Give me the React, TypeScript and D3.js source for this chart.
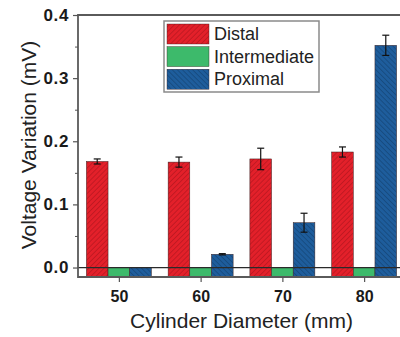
import { useEffect, useRef } from "react";
import * as d3 from "d3";

const categories = [50, 60, 70, 80];
const seriesNames = ["Distal", "Intermediate", "Proximal"];
const distal = [0.168, 0.167, 0.172, 0.183];
const distalErr = [0.004, 0.008, 0.017, 0.008];
const intermediate = [0, 0, 0, 0];
const intermediateErr = [0, 0, 0, 0];
const proximal = [0.0, 0.021, 0.071, 0.352];
const proximalErr = [0, 0.001, 0.015, 0.016];
const yMajorTicks = [0, 0.1, 0.2, 0.3, 0.4];
const yMinorTicks = [0.05, 0.15, 0.25, 0.35];

const W = 400;
const H = 337;

export default function App() {
  const svgRef = useRef<SVGSVGElement>(null);

  useEffect(() => {
    if (!svgRef.current) return;
    const svg = d3.select(svgRef.current);
    svg.selectAll("*").remove();

    const font = "'Liberation Sans', Arial, sans-serif";
    const left = 78, right = 405, top = 15, bottom = 277;

    const x = d3.scaleLinear().domain([45, 85]).range([left, right]);
    const y = d3.scaleLinear().domain([-0.015, 0.4]).range([bottom, top]);

    // hatch patterns
    const defs = svg.append("defs");
    const hatch = (id: string, bg: string, fg: string, angle: number) => {
      const p = defs.append("pattern")
        .attr("id", id)
        .attr("patternUnits", "userSpaceOnUse")
        .attr("width", 3.6)
        .attr("height", 3.6)
        .attr("patternTransform", `rotate(${angle})`);
      p.append("rect").attr("width", 3.6).attr("height", 3.6).attr("fill", bg);
      p.append("line")
        .attr("x1", 0).attr("y1", 0).attr("x2", 0).attr("y2", 3.6)
        .attr("stroke", fg).attr("stroke-width", 1.1);
    };
    hatch("hRed", "#e3202a", "#a8141c", 45);
    hatch("hBlue", "#1e5d9c", "#123f6c", -45);

    const fills = ["url(#hRed)", "#3dba6b", "url(#hBlue)"];
    const values = [distal, intermediate, proximal];
    const errs = [distalErr, intermediateErr, proximalErr];

    const bw = x(52.65) - x(50);
    const clip = defs.append("clipPath").attr("id", "plotClip");
    clip.append("rect").attr("x", left).attr("y", top).attr("width", W - left).attr("height", bottom - top);

    const g = svg.append("g").attr("clip-path", "url(#plotClip)");

    values.forEach((vals, si) => {
      vals.forEach((v, ci) => {
        const cx = x(categories[ci]) + (si - 1) * bw;
        g.append("rect")
          .attr("x", cx - bw / 2)
          .attr("y", y(v))
          .attr("width", bw)
          .attr("height", y(-0.015) - y(v))
          .attr("fill", fills[si])
          .attr("stroke", "#3a2020")
          .attr("stroke-width", 0.5);
        const e = errs[si][ci];
        if (e > 0) {
          const eg = g.append("g").attr("stroke", "#111").attr("stroke-width", 1.2);
          eg.append("line").attr("x1", cx).attr("x2", cx).attr("y1", y(v - e)).attr("y2", y(v + e));
          eg.append("line").attr("x1", cx - 3.5).attr("x2", cx + 3.5).attr("y1", y(v + e)).attr("y2", y(v + e));
          eg.append("line").attr("x1", cx - 3.5).attr("x2", cx + 3.5).attr("y1", y(v - e)).attr("y2", y(v - e));
        }
      });
    });

    // zero line
    svg.append("line")
      .attr("x1", left).attr("x2", W)
      .attr("y1", y(0)).attr("y2", y(0))
      .attr("stroke", "#2a2a2a").attr("stroke-width", 1.2);

    // frame
    svg.append("path")
      .attr("d", `M${W},${top}H${left}V${bottom}H${W}`)
      .attr("fill", "none")
      .attr("stroke", "#5a5a5a")
      .attr("stroke-width", 1.8);

    // y axis
    const yAx = svg.append("g").attr("transform", `translate(${left},0)`)
      .call(d3.axisLeft(y).tickValues(yMajorTicks).tickSize(5).tickPadding(4).tickFormat(d3.format(".1f")));
    yAx.select(".domain").remove();
    yAx.selectAll(".tick line").attr("stroke", "#555").attr("stroke-width", 1.2);
    yAx.selectAll(".tick text")
      .attr("font-family", font).attr("font-size", 17).attr("font-weight", "bold")
      .attr("fill", "#1a1a1a").attr("letter-spacing", 0.6);

    const yMin = svg.append("g").attr("transform", `translate(${left},0)`)
      .call(d3.axisLeft(y).tickValues(yMinorTicks).tickSize(3).tickFormat(() => ""));
    yMin.select(".domain").remove();
    yMin.selectAll(".tick line").attr("stroke", "#555").attr("stroke-width", 1);

    // x axis
    const xAx = svg.append("g").attr("transform", `translate(0,${bottom})`)
      .call(d3.axisBottom(x).tickValues(categories).tickSize(5).tickPadding(9).tickFormat(d3.format("d")));
    xAx.select(".domain").remove();
    xAx.selectAll(".tick line").attr("stroke", "#555").attr("stroke-width", 1.2);
    xAx.selectAll(".tick text")
      .attr("font-family", font).attr("font-size", 16).attr("font-weight", "bold")
      .attr("fill", "#1a1a1a");

    // axis titles
    svg.append("text")
      .attr("x", (left + right) / 2).attr("y", 328)
      .attr("text-anchor", "middle")
      .attr("font-family", font).attr("font-size", 21)
      .attr("fill", "#222")
      .text("Cylinder Diameter (mm)");

    svg.append("text")
      .attr("transform", `translate(36,145) rotate(-90)`)
      .attr("text-anchor", "middle")
      .attr("font-family", font).attr("font-size", 21)
      .attr("fill", "#222")
      .text("Voltage Variation (mV)");

    // legend
    const lg = svg.append("g");
    lg.append("rect")
      .attr("x", 164).attr("y", 21).attr("width", 155).attr("height", 71)
      .attr("fill", "#fff").attr("stroke", "#8a8a8a").attr("stroke-width", 1.5);
    seriesNames.forEach((name, i) => {
      const ry = 24 + i * 22.6;
      lg.append("rect")
        .attr("x", 167).attr("y", ry).attr("width", 42).attr("height", 20)
        .attr("fill", fills[i]).attr("stroke", "#3a2020").attr("stroke-width", 0.4);
      lg.append("text")
        .attr("x", 214).attr("y", ry + 16)
        .attr("font-family", font).attr("font-size", 18)
        .attr("fill", "#222")
        .text(name);
    });
  }, []);

  return (
    <svg
      ref={svgRef}
      width={W}
      height={H}
      style={{ position: "absolute", left: 0, top: 0, background: "#fff" }}
    />
  );
}
